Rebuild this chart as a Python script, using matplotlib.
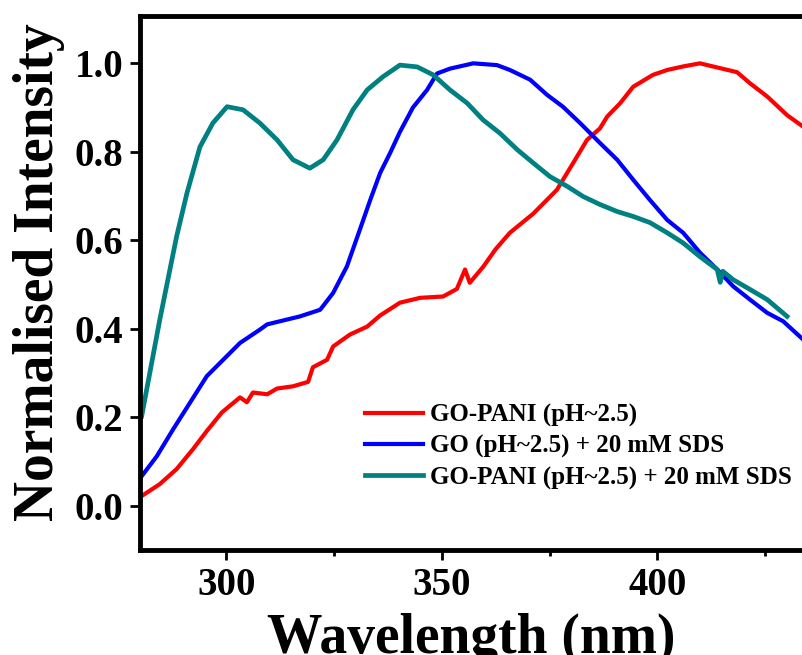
import matplotlib
matplotlib.use('Agg')
import matplotlib.pyplot as plt
from matplotlib.ticker import MultipleLocator

plt.rcParams['font.family'] = ['Liberation Serif', 'DejaVu Serif']
plt.rcParams['font.weight'] = 'bold'

# GO-PANI (pH~2.5)
x_red = [280.4, 284.6, 288.5, 292.3, 295.5, 299.0, 303.2, 304.8, 306.2, 309.5, 311.8, 315.5,
         319.0, 320.1, 323.4, 324.8, 328.7, 332.7, 335.7, 340.3, 345.0, 350.3, 353.5, 355.4,
         356.5, 359.6, 362.5, 365.8, 371.2, 376.7, 380.5, 383.7, 386.7, 388.4, 391.4, 394.4,
         399.0, 402.3, 406.0, 409.9, 414.6, 418.5, 421.5, 425.5, 430.1, 433.8]
y_red = [0.022, 0.049, 0.083, 0.128, 0.169, 0.211, 0.245, 0.234, 0.256, 0.252, 0.265, 0.270,
         0.280, 0.313, 0.330, 0.360, 0.387, 0.405, 0.430, 0.459, 0.470, 0.473, 0.490, 0.534,
         0.504, 0.540, 0.580, 0.617, 0.660, 0.714, 0.775, 0.827, 0.853, 0.880, 0.910, 0.947,
         0.974, 0.985, 0.993, 1.000, 0.989, 0.980, 0.955, 0.925, 0.883, 0.857]

# GO (pH~2.5) + 20 mM SDS
x_blue = [280.4, 283.9, 287.7, 291.6, 295.5, 299.3, 303.2, 307.8, 309.5, 317.1, 321.8, 324.8,
          328.0, 331.0, 333.4, 335.7, 338.0, 340.3, 343.3, 346.6, 348.9, 351.9, 357.3, 362.8,
          365.8, 370.5, 374.4, 378.1, 382.1, 386.7, 390.7, 394.4, 398.3, 402.3, 406.0, 409.9,
          413.9, 417.6, 421.5, 425.5, 429.2, 433.8]
y_blue = [0.067, 0.112, 0.173, 0.233, 0.293, 0.330, 0.368, 0.398, 0.410, 0.428, 0.443, 0.481,
          0.541, 0.624, 0.691, 0.752, 0.797, 0.845, 0.900, 0.940, 0.977, 0.988, 1.000, 0.996,
          0.985, 0.963, 0.929, 0.902, 0.865, 0.820, 0.782, 0.737, 0.691, 0.646, 0.617, 0.572,
          0.534, 0.496, 0.466, 0.436, 0.417, 0.376]

# GO-PANI (pH~2.5) + 20 mM SDS
x_teal = [280.4, 284.6, 286.3, 288.5, 290.9, 293.9, 296.9, 300.2, 303.9, 307.8, 311.8, 315.5,
          319.4, 322.5, 325.7, 329.4, 332.7, 336.4, 340.3, 344.3, 348.0, 351.9, 355.9, 359.6,
          363.5, 367.5, 371.2, 375.1, 379.1, 382.8, 386.7, 390.7, 394.4, 398.3, 402.3, 406.0,
          409.9, 413.9, 414.6, 415.2, 417.6, 421.5, 425.5, 430.1]
y_teal = [0.203, 0.421, 0.503, 0.609, 0.707, 0.811, 0.865, 0.902, 0.895, 0.865, 0.827, 0.782,
          0.763, 0.782, 0.827, 0.895, 0.940, 0.970, 0.996, 0.992, 0.974, 0.940, 0.910, 0.872,
          0.842, 0.805, 0.775, 0.744, 0.722, 0.699, 0.681, 0.665, 0.654, 0.640, 0.617, 0.594,
          0.563, 0.534, 0.505, 0.530, 0.511, 0.489, 0.466, 0.428]

labels = ['GO-PANI (pH~2.5)', 'GO (pH~2.5) + 20 mM SDS', 'GO-PANI (pH~2.5) + 20 mM SDS']

W, H = 803, 655
fig = plt.figure(figsize=(W / 100, H / 100), dpi=100)
ax = fig.add_axes([140 / W, (H - 550) / H, (W - 140) / W, (550 - 16) / H])

ax.plot(x_red, y_red, color='#ff0000', lw=3, label=labels[0])
ax.plot(x_blue, y_blue, color='#0000ff', lw=3, label=labels[1])
ax.plot(x_teal, y_teal, color='#008080', lw=3.4, label=labels[2])

ax.set_xlim(280, 433.8)
ax.set_ylim(-0.1, 1.107)

ax.xaxis.set_major_locator(MultipleLocator(50))
ax.xaxis.set_minor_locator(MultipleLocator(25))
ax.set_yticks([0.0, 0.2, 0.4, 0.6, 0.8, 1.0])
ax.set_yticklabels(['0.0', '0.2', '0.4', '0.6', '0.8', '1.0'])

for side in ['left', 'top', 'bottom']:
    ax.spines[side].set_linewidth(3.5)
ax.spines['right'].set_visible(False)

ax.tick_params(axis='both', which='major', direction='out', length=7, width=2,
               labelsize=28, pad=5)
ax.tick_params(axis='x', which='minor', direction='out', length=4, width=2)
ax.tick_params(axis='y', which='minor', left=False)
for lbl in ax.get_xticklabels() + ax.get_yticklabels():
    lbl.set_fontweight('bold')

ax.set_xlabel('Wavelength (nm)', fontsize=40, fontweight='bold')
ax.xaxis.set_label_coords(0.5, -0.118)
ax.set_ylabel('Normalised Intensity', fontsize=40, fontweight='bold')
ax.yaxis.set_label_coords(-0.113, 0.52)

ax.legend(loc='upper left', bbox_to_anchor=(0.321, 0.298), frameon=False,
          handlelength=2.3, handletextpad=0.3, labelspacing=0.32,
          borderpad=0, prop={'weight': 'bold', 'size': 18})

fig.savefig('out.png', dpi=100)
